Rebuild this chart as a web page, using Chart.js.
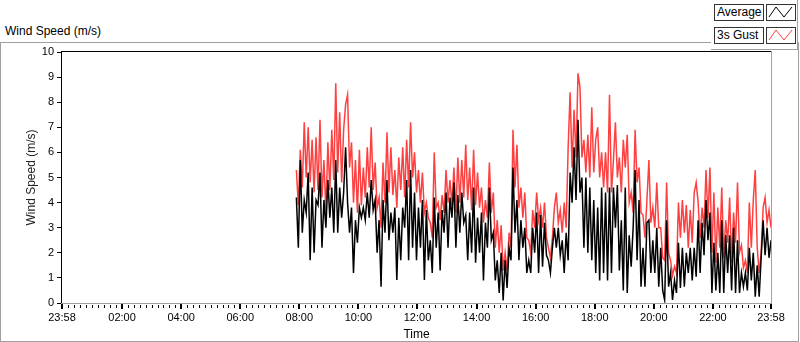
<!DOCTYPE html>
<html>
<head>
<meta charset="utf-8">
<script src="https://cdn.jsdelivr.net/npm/chart.js@4.4.0/dist/chart.umd.min.js"></script>
<style>
  body { margin: 0; background: #fff; font-family: "Liberation Sans", Arial, sans-serif; }
  #wrap { position: relative; width: 800px; height: 342px; overflow: hidden; }
  #frame { position: absolute; left: 0; top: 42px; width: 797px; height: 298px; border: 1px solid #a0a0a0; }
  #title { position: absolute; left: 5px; top: 24px; font-size: 12px; color: #000; }
  #legend { position: absolute; left: 711px; top: 0; width: 86px; height: 49px; background: #fff;
            border-right: 1px solid #a0a0a0; border-bottom: 1px solid #a0a0a0; }
  .name { position: absolute; left: 3px; width: 46px; height: 15px; border: 1px solid #333;
          font-size: 12px; line-height: 15px; padding-left: 2px; color: #000; }
  .icon { position: absolute; left: 55px; width: 28px; height: 15px; border: 1px solid #333; }
  canvas { position: absolute; left: 0; top: 0; }
</style>
</head>
<body>
<div id="wrap">
  <div id="frame"></div>
  <div id="title">Wind Speed (m/s)</div>
  <div id="legend"></div>
  <canvas id="chart" width="800" height="342"></canvas>
</div>
<script>
var seriesNames = ["Average", "3s Gust"];
var seriesColors = ["#000000", "#ff4040"];
var timeTickLabels = ["23:58", "02:00", "04:00", "06:00", "08:00", "10:00", "12:00",
  "14:00", "16:00", "18:00", "20:00", "22:00", "23:58"];
var speedTicks = [0, 1, 2, 3, 4, 5, 6, 7, 8, 9, 10];

// one sample every 4 minutes from 07:54 to 23:58
var sampleStart = "07:54";
var sampleStep = 4;

var avgSpeed = [
  4.2, 2.2, 5.7, 2.8, 4.1, 3.6, 5.2, 1.7, 4.6, 2.0,
  4.1, 3.9, 5.2, 2.2, 4.1, 3.0, 4.9, 3.4, 4.6, 2.8,
  5.7, 2.8, 4.6, 3.4, 4.4, 6.2, 4.0, 2.8, 3.8, 1.2,
  3.3, 2.4, 3.8, 3.4, 3.8, 3.3, 4.4, 3.4, 4.9, 3.7,
  4.1, 2.0, 3.3, 0.65, 4.1, 2.8, 4.9, 2.5, 3.6, 2.8,
  3.8, 0.92, 3.4, 1.7, 3.8, 3.0, 4.9, 1.7, 5.3, 2.2,
  4.4, 1.7, 3.8, 2.2, 4.1, 0.92, 3.7, 1.7, 2.5, 1.2,
  4.2, 2.2, 3.6, 1.3, 3.7, 2.8, 4.4, 2.2, 4.2, 3.4,
  4.8, 2.2, 4.3, 2.8, 4.4, 3.2, 3.5, 1.7, 3.6, 2.0,
  4.6, 1.6, 3.4, 2.0, 3.6, 0.9, 3.2, 2.2, 4.6, 2.5,
  2.8, 0.9, 1.7, 0.4, 2.0, 0.1, 1.7, 0.6, 2.2, 1.7,
  5.4, 2.8, 4.1, 1.7, 3.3, 2.2, 3.0, 1.2, 1.7, 1.2,
  3.0, 2.0, 3.6, 1.2, 3.5, 1.45, 3.2, 1.9, 1.7, 1.2,
  2.2, 3.0, 2.2, 3.0, 1.9, 2.5, 1.2, 2.8, 1.7, 5.2,
  4.0, 6.2, 4.1, 7.3, 4.4, 5.0, 2.2, 5.0, 2.0, 4.6,
  1.7, 4.1, 1.2, 3.8, 0.9, 4.6, 1.2, 4.4, 0.9, 4.6,
  1.2, 4.6, 3.0, 4.7, 1.3, 3.3, 0.5, 4.6, 0.4, 2.7,
  1.45, 3.0, 5.3, 1.7, 4.1, 0.65, 2.2, 0.65, 3.2, 3.3,
  1.2, 2.5, 1.2, 3.0, 0.65, 2.2, 0.5, 0.12, 3.3, 0.65,
  1.2, 0.12, 0.9, 0.4, 2.4, 0.6, 2.2, 0.65, 2.0, 1.2,
  2.2, 0.9, 2.2, 1.05, 3.3, 1.2, 3.2, 1.9, 4.1, 2.5,
  3.6, 0.4, 2.4, 0.5, 2.0, 0.4, 3.3, 0.4, 2.7, 1.2,
  2.7, 0.5, 3.0, 0.4, 2.5, 0.4, 1.2, 0.65, 1.2, 0.5,
  2.2, 0.9, 2.0, 0.25, 1.5, 0.25, 1.8, 3.3, 1.9, 3.0,
  1.8, 2.5
];

var gustSpeed = [
  5.3, 3.9, 6.1, 4.6, 7.2, 5.0, 7.0, 4.8, 6.5, 4.4,
  6.6, 4.5, 7.3, 4.2, 5.7, 3.6, 6.4, 4.5, 6.9, 4.9,
  8.75, 5.2, 7.6, 4.8, 6.9, 7.9, 8.3, 5.4, 6.4, 4.0,
  5.7, 3.6, 6.1, 3.9, 5.4, 4.2, 6.2, 4.6, 7.0, 4.5,
  5.6, 3.8, 4.2, 3.0, 5.6, 4.0, 6.8, 4.4, 6.2, 4.3,
  5.3, 3.8, 5.8, 4.5, 6.2, 4.2, 6.5, 4.6, 7.2, 5.0,
  6.0, 4.4, 5.3, 4.0, 5.2, 3.6, 4.0, 3.4, 3.2, 2.6,
  6.0, 3.8, 4.0, 3.3, 4.3, 3.6, 5.3, 4.0, 4.9, 3.9,
  5.4, 3.6, 5.8, 4.0, 5.7, 4.2, 6.3, 4.1, 5.4, 3.7,
  6.1, 3.9, 5.2, 3.8, 4.6, 3.2, 4.1, 3.4, 5.6, 3.6,
  4.4, 2.2, 3.3, 2.0, 3.1, 1.3, 2.0, 1.3, 2.8, 2.2,
  6.9, 4.6, 6.3, 3.8, 4.6, 3.4, 4.4, 2.6, 2.5, 2.0,
  3.7, 3.0, 4.4, 3.3, 3.8, 3.0, 4.0, 2.6, 2.2, 1.8,
  2.6, 3.8, 4.4, 3.2, 3.7, 2.8, 4.0, 3.0, 6.2, 8.4,
  5.4, 7.7, 5.8, 9.15, 8.6, 5.8, 6.5, 5.2, 6.7, 5.0,
  7.8, 5.2, 6.5, 7.0, 5.0, 6.0, 4.6, 6.0, 4.4, 8.3,
  4.4, 5.7, 7.2, 5.0, 5.8, 4.4, 6.5, 5.4, 6.7, 4.0,
  4.4, 3.6, 6.9, 4.8, 5.4, 3.6, 3.5, 2.6, 4.1, 5.7,
  3.2, 3.8, 3.0, 4.8, 3.0, 3.0, 1.8, 1.7, 4.8, 2.0,
  1.7, 1.1, 1.45, 1.2, 4.0, 2.6, 4.1, 2.8, 3.9, 2.2,
  3.7, 2.4, 4.4, 4.8, 4.0, 2.6, 3.8, 3.0, 5.3, 3.4,
  5.4, 2.0, 4.4, 1.6, 3.8, 2.2, 4.6, 1.8, 3.3, 2.4,
  4.2, 1.6, 3.6, 2.4, 4.8, 2.0, 2.3, 1.4, 1.7, 1.2,
  4.0, 2.2, 4.1, 5.3, 2.2, 1.2, 2.0, 3.8, 4.2, 3.2,
  3.7, 3.0
];

// minutes since the left end of the axis (23:58 the day before)
function minutesFromOrigin(hhmm, isEnd) {
  var parts = hhmm.split(":").map(Number);
  var mins = (parts[0] * 60 + parts[1] - (23 * 60 + 58) + 1440) % 1440;
  return isEnd && mins === 0 ? 1440 : mins;
}

var majorTicks = timeTickLabels.map((l, i) => minutesFromOrigin(l, i === timeTickLabels.length - 1));
var allTicks = [];
majorTicks.forEach((v, i) => {
  allTicks.push(v);
  if (i < majorTicks.length - 1) {
    var step = (majorTicks[i + 1] - v) / 10;
    for (var k = 1; k < 10; k++) allTicks.push(v + k * step);
  }
});

var t0 = minutesFromOrigin(sampleStart, false);
function toPoints(values) {
  return values.map((v, i) => ({ x: t0 + i * sampleStep, y: v }));
}

// legend boxes like the LabVIEW plot legend
var legend = document.getElementById("legend");
seriesNames.forEach((name, i) => {
  var top = 4 + i * 23;
  var label = document.createElement("div");
  label.className = "name";
  label.style.top = top + "px";
  label.textContent = name;
  legend.appendChild(label);
  var icon = document.createElement("div");
  icon.className = "icon";
  icon.style.top = top + "px";
  icon.innerHTML = '<svg width="28" height="15"><polyline points="2,12 9,2 17,12 25,2" fill="none" stroke="' +
    seriesColors[i] + '" stroke-width="1"/></svg>';
  legend.appendChild(icon);
});

var plotFrame = {
  id: "plotFrame",
  afterDraw(chart) {
    var ctx = chart.ctx;
    var a = chart.chartArea;
    var x = chart.scales.x;
    ctx.save();
    ctx.fillStyle = "#000";
    allTicks.forEach((v) => {
      var px = Math.round(x.getPixelForValue(v));
      if (majorTicks.indexOf(v) >= 0) ctx.fillRect(px - 1, a.bottom + 1, 2, 5);
      else ctx.fillRect(px, a.bottom + 2, 1, 3);
    });
    ctx.fillRect(a.left - 1, a.top - 1, a.right - a.left + 1, 1);
    ctx.fillRect(a.left - 1, a.top - 1, 1, a.bottom - a.top + 2);
    ctx.fillStyle = "#a0a0a0";
    ctx.fillRect(a.right, a.top - 1, 1, a.bottom - a.top + 2);
    ctx.fillRect(a.left - 1, a.bottom, a.right - a.left + 2, 1);
    ctx.restore();
  },
};

Chart.defaults.font.family = '"Liberation Sans", Arial, sans-serif';
Chart.defaults.font.size = 11;
Chart.defaults.color = "#000";

new Chart(document.getElementById("chart"), {
  type: "line",
  data: {
    datasets: [
      {
        label: seriesNames[0],
        data: toPoints(avgSpeed),
        borderColor: seriesColors[0],
        borderWidth: 1.5,
        pointRadius: 0,
        tension: 0,
      },
      {
        label: seriesNames[1],
        data: toPoints(gustSpeed),
        borderColor: seriesColors[1],
        borderWidth: 1.5,
        pointRadius: 0,
        tension: 0,
      },
    ],
  },
  options: {
    responsive: false,
    animation: false,
    events: [],
    layout: {
      autoPadding: false,
      padding: { left: 0, top: 52, right: 29, bottom: 0 },
    },
    plugins: {
      legend: { display: false },
      tooltip: { enabled: false },
    },
    scales: {
      x: {
        type: "linear",
        min: 0,
        max: 1440,
        afterBuildTicks: (scale) => {
          scale.ticks = allTicks.map((v) => ({ value: v }));
        },
        afterFit: (scale) => {
          scale.height = 39;
        },
        ticks: {
          autoSkip: false,
          maxRotation: 0,
          minRotation: 0,
          padding: 4,
          callback: (value) => {
            var idx = majorTicks.indexOf(value);
            return idx >= 0 ? timeTickLabels[idx] : "";
          },
        },
        grid: { display: false, drawTicks: true, tickLength: 4 },
        border: { display: false },
        title: {
          display: true,
          text: "Time",
          font: { size: 12 },
          padding: { top: 1, bottom: 0 },
        },
      },
      y: {
        min: 0,
        max: 10,
        afterBuildTicks: (scale) => {
          scale.ticks = speedTicks.map((v) => ({ value: v }));
        },
        afterFit: (scale) => {
          scale.width = 62;
        },
        ticks: { padding: 3 },
        grid: { display: true, drawOnChartArea: false, drawTicks: true, tickLength: 5, tickColor: "#000" },
        border: { display: false },
        title: {
          display: true,
          text: "Wind Speed (m/s)",
          font: { size: 12 },
          color: "#222",
          padding: { top: 24, bottom: 0 },
        },
      },
    },
  },
  plugins: [plotFrame],
});
</script>
</body>
</html>
